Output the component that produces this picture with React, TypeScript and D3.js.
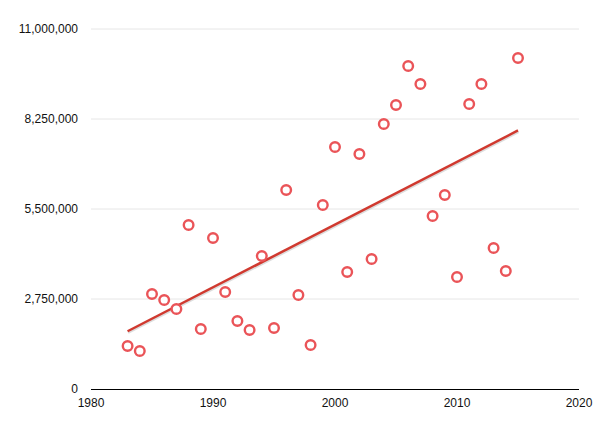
import React from "react";
import * as d3 from "d3";

const years = [1983,1984,1985,1986,1987,1988,1989,1990,1991,1992,1993,1994,1995,1996,1997,1998,1999,2000,2001,2002,2003,2004,2005,2006,2007,2008,2009,2010,2011,2012,2013,2014,2015];
const values = [1314000,1161000,2903000,2719000,2444000,5011000,1833000,4614000,2964000,2078000,1803000,4064000,1864000,6081000,2872000,1344000,5622000,7394000,3575000,7181000,3972000,8097000,8678000,9869000,9319000,5286000,5928000,3422000,8708000,9319000,4308000,3606000,10114000];
const yTicks = [0, 2750000, 5500000, 8250000, 11000000];
const xTicks = [1980, 1990, 2000, 2010, 2020];

export default function App() {
  const W = 607, H = 429;
  const x = d3.scaleLinear().domain([1980, 2020]).range([91, 579]);
  const y = d3.scaleLinear().domain([0, 11000000]).range([389, 29]);
  const fmt = d3.format(",");

  const mx = d3.mean(years)!;
  const my = d3.mean(values)!;
  let sxy = 0, sxx = 0;
  years.forEach((yr, i) => { sxy += (yr - mx) * (values[i] - my); sxx += (yr - mx) ** 2; });
  const slope = sxy / sxx;
  const icpt = my - slope * mx;
  const x0 = d3.min(years)!, x1 = d3.max(years)!;
  const trend: [number, number][] = [[x0, icpt + slope * x0], [x1, icpt + slope * x1]];
  const line = d3.line<[number, number]>().x(d => x(d[0])).y(d => y(d[1]));

  return (
    <svg width={W} height={H} style={{ position: "absolute", left: 0, top: 0, background: "#fff" }}
      fontFamily="'Liberation Sans', Arial, Helvetica, sans-serif">
      {yTicks.map(t => (
        <g key={t}>
          {t !== 0 && <line x1={91} x2={579} y1={y(t)} y2={y(t)} stroke="#e6e6e6" strokeWidth={1} />}
          <text x={78} y={y(t)} dy="0.35em" textAnchor="end" fontSize={12} fill="#111">{fmt(t)}</text>
        </g>
      ))}
      <line x1={91} x2={579} y1={y(0) + 0.5} y2={y(0) + 0.5} stroke="#000" strokeWidth={1.2} />
      {xTicks.map(t => (
        <text key={t} x={x(t)} y={403} dy="0.35em" textAnchor="middle" fontSize={12} fill="#111">{t}</text>
      ))}
      <path d={line(trend)!} stroke="#bbb" strokeOpacity={0.5} strokeWidth={2.5} fill="none" transform="translate(0.5,1.5)" />
      <path d={line(trend)!} stroke="#d0392f" strokeWidth={2.5} fill="none" />
      {years.map((yr, i) => (
        <circle key={yr} cx={x(yr)} cy={y(values[i])} r={4.8} fill="#fff" stroke="#ea5458" strokeWidth={2.4} />
      ))}
    </svg>
  );
}
